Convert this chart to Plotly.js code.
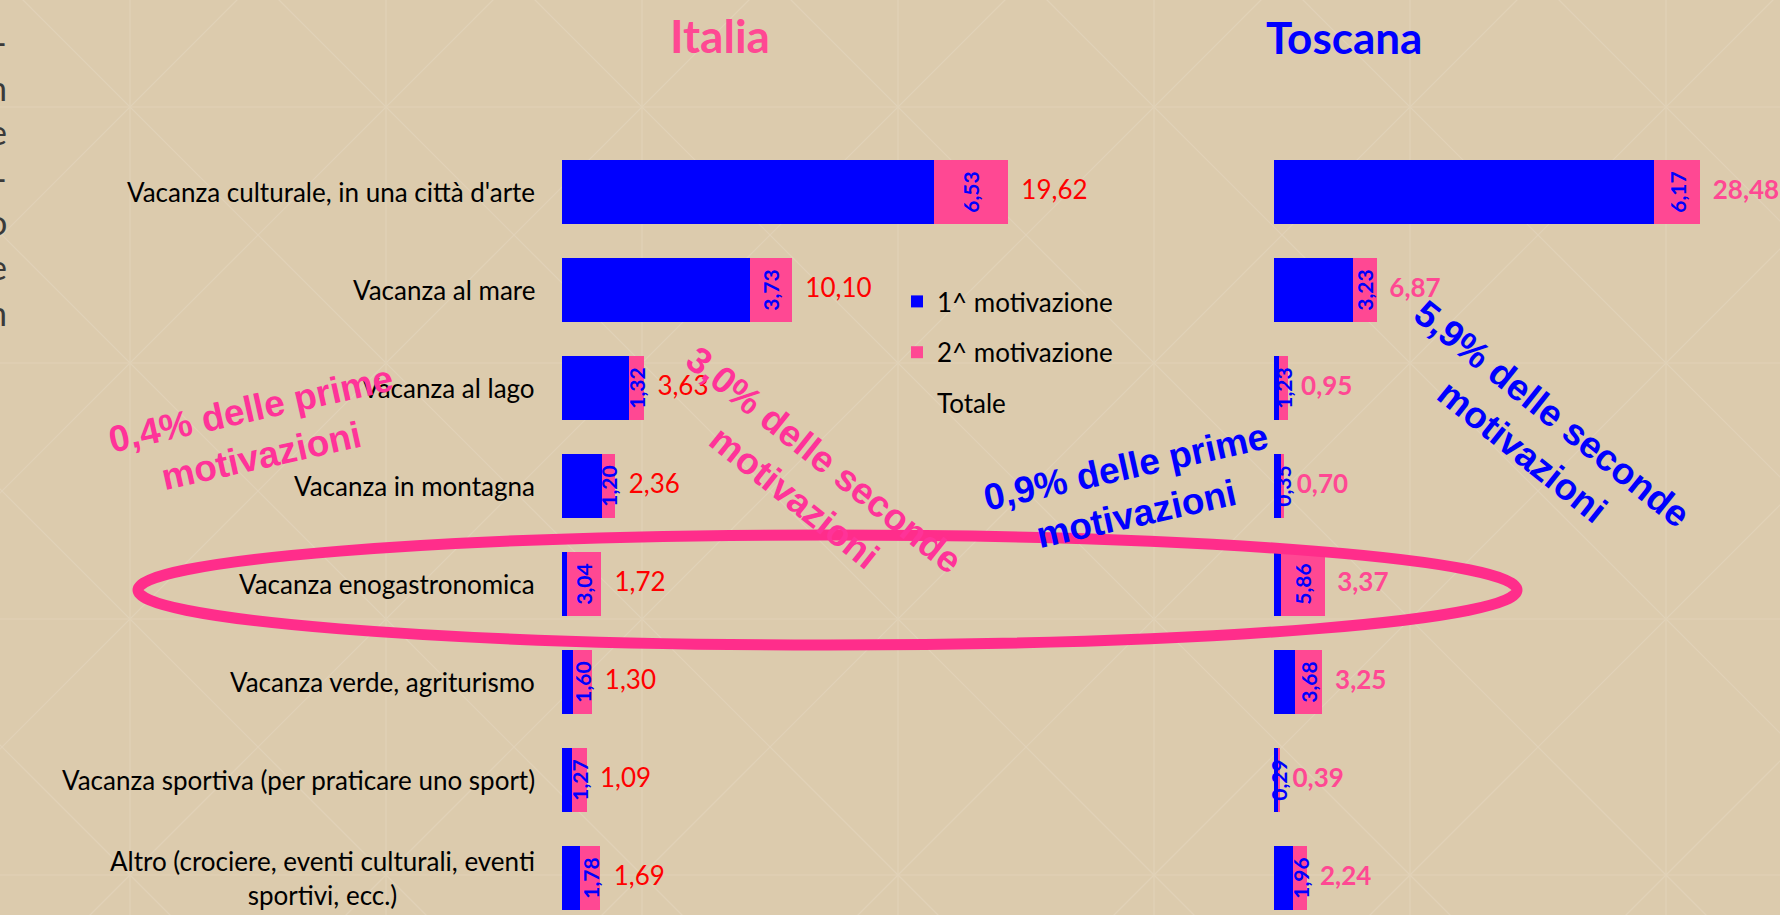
<!DOCTYPE html>
<html>
<head>
<meta charset="utf-8">
<script src="https://cdn.plot.ly/plotly-3.0.1.min.js"></script>
<style>
  html, body { margin: 0; padding: 0; background: #DCCBAD; }
  #chart { width: 1780px; height: 915px; }
</style>
</head>
<body>
<div id="chart"></div>
<script>
// categories (top to bottom)
const categories = [
    "Vacanza culturale, in una città d'arte",
    'Vacanza al mare',
    'Vacanza al lago',
    'Vacanza in montagna',
    'Vacanza enogastronomica',
    'Vacanza verde, agriturismo',
    'Vacanza sportiva (per praticare uno sport)',
    'Altro (crociere, eventi culturali, eventi<br>sportivi, ecc.)'
];

// Italia
const italiaFirst = [32.7, 16.5, 5.9, 3.5, 0.4, 1.0, 0.9, 1.6];
const italiaSecond = [6.53, 3.73, 1.32, 1.20, 3.04, 1.60, 1.27, 1.78];
const italiaTotal = [19.62, 10.10, 3.63, 2.36, 1.72, 1.30, 1.09, 1.69];

// Toscana
const toscanaFirst = [50.8, 10.5, 0.7, 1.0, 0.9, 2.8, 0.5, 2.5];
const toscanaSecond = [6.17, 3.23, 1.23, 0.35, 5.86, 3.68, 0.29, 1.96];
const toscanaTotal = [28.48, 6.87, 0.95, 0.70, 3.37, 3.25, 0.39, 2.24];

const seriesNames = ['1^ motivazione', '2^ motivazione', 'Totale'];

const BLUE = '#0000FF';
const PINK = '#FF4893';
const W = 1780, H = 915;
const px = x => x / W;
const py = y => 1 - y / H;
const fmt = v => v.toFixed(2).replace('.', ',');

function panelTraces(first, second, total, xaxis, totalFont, showlegend) {
    const common = { type: 'bar', y: categories, orientation: 'h', xaxis: xaxis, yaxis: 'y',
        hoverinfo: 'skip', cliponaxis: false, constraintext: 'none' };
    return [
        Object.assign({}, common, {
            name: seriesNames[0], x: first, legendgroup: 'a', showlegend: showlegend,
            marker: { color: BLUE, line: { width: 0 } }
        }),
        Object.assign({}, common, {
            name: seriesNames[1], x: second, legendgroup: 'b', showlegend: showlegend,
            marker: { color: PINK, line: { width: 0 } },
            text: second.map(fmt), textposition: 'inside', textangle: -90,
            insidetextanchor: 'middle',
            insidetextfont: { family: 'Lato', size: 21, color: BLUE, weight: 'bold' }
        }),
        // Totale: unfilled segment (legend entry without a swatch)
        Object.assign({}, common, {
            name: seriesNames[2], x: total, legendgroup: 'c', showlegend: showlegend,
            marker: { color: 'rgba(0,0,0,0)', line: { width: 0 } }
        }),
        // Totale labels, just after the end of the coloured stack
        {
            type: 'scatter', mode: 'text', xaxis: xaxis, yaxis: 'y', y: categories,
            x: first.map((v, i) => v + second[i]),
            text: total.map(v => '\u00a0\u00a0' + fmt(v)),
            textposition: 'middle right', textfont: totalFont,
            showlegend: false, cliponaxis: false, hoverinfo: 'skip'
        }
    ];
}

const data = [].concat(
    panelTraces(italiaFirst, italiaSecond, italiaTotal, 'x',
        { family: 'Lato', size: 26, color: '#FF0000' }, true),
    panelTraces(toscanaFirst, toscanaSecond, toscanaTotal, 'x2',
        { family: 'Lato', size: 26, color: PINK, weight: 'bold' }, false)
);

// faint lattice of the slide background
const shapes = [];
const lineColor = '#E1D2B8';
function bgLine(x0, y0, x1, y1) {
    shapes.push({ type: 'line', xref: 'paper', yref: 'paper', layer: 'below',
        x0: px(x0), y0: py(y0), x1: px(x1), y1: py(y1),
        line: { color: lineColor, width: 1.2 } });
}
for (let x = 130 - 256; x < W + 256; x += 256) bgLine(x, -10, x, H + 10);
for (let y = 107 - 256; y < H + 256; y += 256) bgLine(-10, y, W + 10, y);
for (let c = 23 - 256 * 4; c < W + 256; c += 256) bgLine(c - 10, -10, c + H + 10, H + 10);
for (let s = 237 - 256; s < W + H + 256; s += 256) bgLine(s + 10, -10, s - H - 10, H + 10);

// highlight ellipse round "enogastronomica"
shapes.push({ type: 'circle', xref: 'paper', yref: 'paper', layer: 'above',
    x0: px(138), x1: px(1517), y0: py(645), y1: py(535),
    line: { color: '#FF2D8B', width: 11 } });

const annotations = [];
// category labels, right aligned, second line centred
categories.forEach(c => annotations.push({
    xref: 'paper', yref: 'y', x: px(537), y: c, xanchor: 'right', yanchor: 'middle',
    text: c, showarrow: false, align: 'center',
    font: { family: 'Lato', size: 26, color: '#000000' }
}));

annotations.push(
    { xref: 'paper', yref: 'paper', x: px(720), y: py(35), xanchor: 'center', yanchor: 'middle',
      text: '<b>Italia</b>', showarrow: false, font: { family: 'Lato', size: 46, color: PINK } },
    { xref: 'paper', yref: 'paper', x: px(1344), y: py(37), xanchor: 'center', yanchor: 'middle',
      text: '<b>Toscana</b>', showarrow: false, font: { family: 'Lato', size: 44, color: BLUE } }
);

const noteFont = c => ({ family: 'Liberation Sans', size: 37, color: c });
const notes = [
    ['<b>0,4% delle prime<br>motivazioni</b>', 256, 432, -12.5, '#FF3399'],
    ['<b>3,0% delle seconde<br>motivazioni</b>', 809, 478, 38.5, '#FF3399'],
    ['<b>0,9% delle prime<br>motivazioni</b>', 1131, 490, -12.5, BLUE],
    ['<b>5,9% delle seconde<br>motivazioni</b>', 1537, 432, 38.5, BLUE]
];
notes.forEach(n => annotations.push({
    xref: 'paper', yref: 'paper', x: px(n[1]), y: py(n[2]), xanchor: 'center', yanchor: 'middle',
    text: n[0], textangle: n[3], showarrow: false, align: 'center', font: noteFont(n[4])
}));

// cut-off text column at the left edge of the slide
['-', 'n', 'e', '-', 'o', 'e', 'n'].forEach((t, i) => annotations.push({
    xref: 'paper', yref: 'paper', x: px(9), y: py(42 + i * 45), xanchor: 'right', yanchor: 'middle',
    text: t, showarrow: false, font: { family: 'Lato', size: 34, color: '#3A3A3A' }
}));

const layout = {
    width: W, height: H,
    margin: { l: 0, r: 0, t: 0, b: 0 },
    paper_bgcolor: '#DCCBAD',
    plot_bgcolor: 'rgba(0,0,0,0)',
    barmode: 'stack',
    bargap: 0.35,
    showlegend: true,
    legend: {
        x: px(897), y: py(278), xanchor: 'left', yanchor: 'top',
        bgcolor: 'rgba(0,0,0,0)', traceorder: 'grouped', tracegroupgap: 14,
        font: { family: 'Lato', size: 26, color: '#000000' }
    },
    xaxis: { domain: [px(562), px(1150)], range: [0, (1150 - 562) / 11.37], visible: false, fixedrange: true },
    xaxis2: { domain: [px(1274), 1], range: [0, (W - 1274) / 7.48], visible: false, fixedrange: true },
    yaxis: { type: 'category', categoryorder: 'array', categoryarray: categories,
        range: [7 + (H - 878) / 98, -192 / 98], visible: false, fixedrange: true },
    shapes: shapes,
    annotations: annotations
};

Plotly.newPlot('chart', data, layout, { displayModeBar: false, staticPlot: true });
</script>
</body>
</html>
